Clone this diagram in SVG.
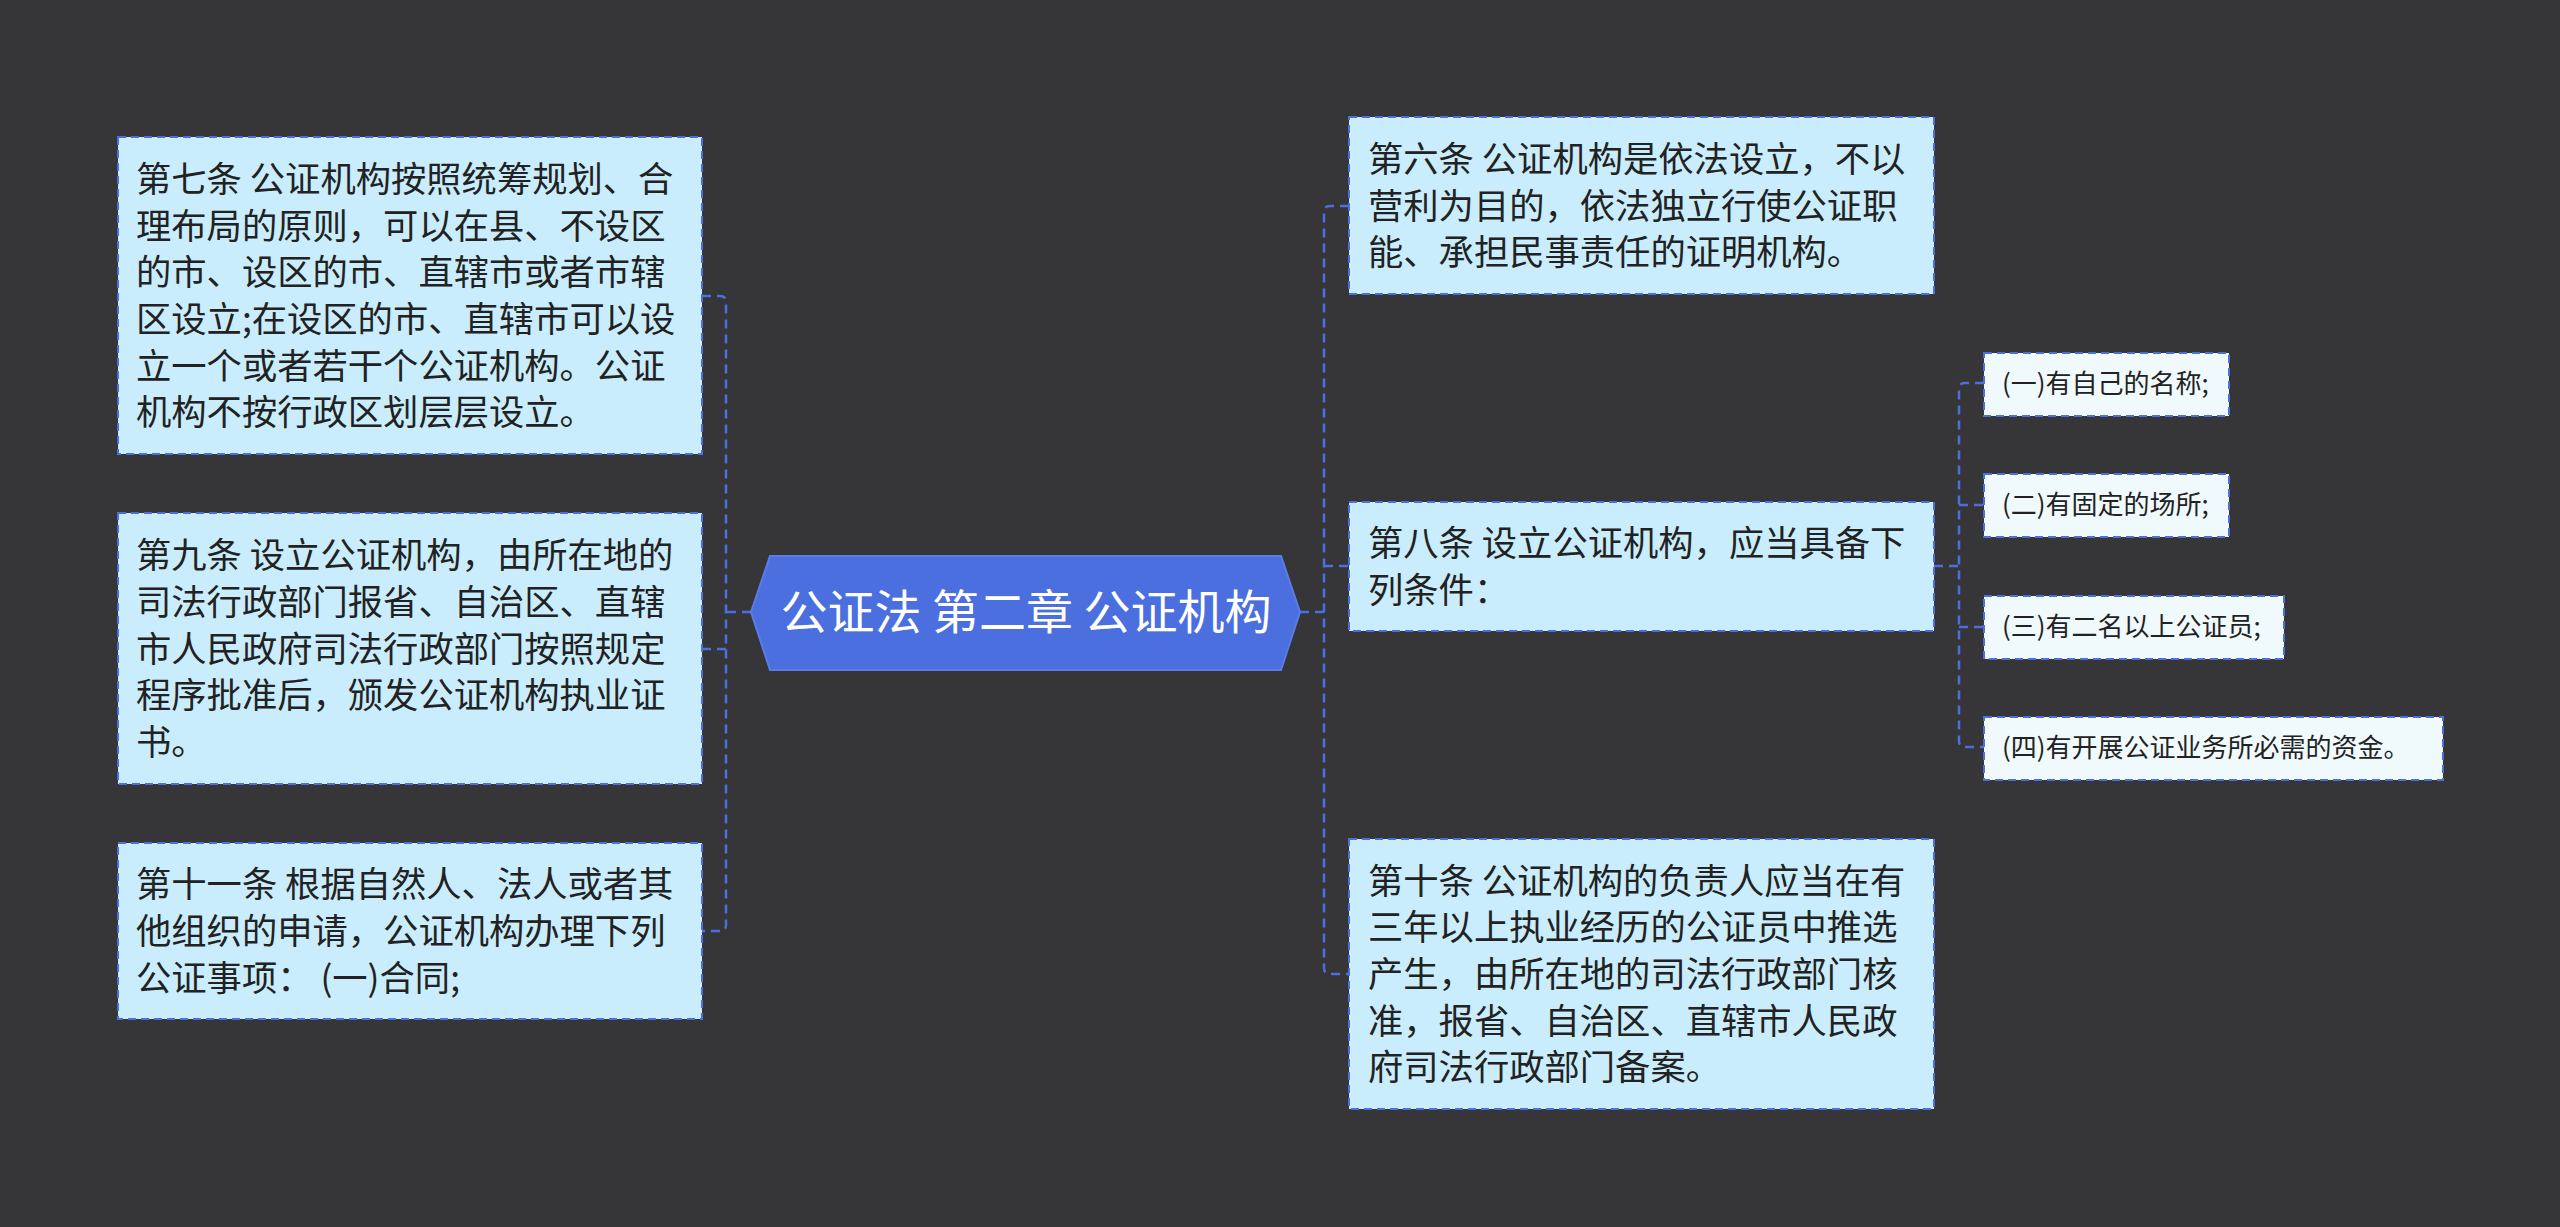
<svg xmlns="http://www.w3.org/2000/svg" width="2560" height="1227" viewBox="0 0 2560 1227">
<defs>
<style>
.bg{fill:#363538}
.box{fill:#C9EDFC;stroke:#4B6FDE;stroke-width:2;stroke-dasharray:8 5}
.sub{fill:#F0F9FC;stroke:#4B6FDE;stroke-width:2;stroke-dasharray:8 5}
.t{font-family:"Noto Sans CJK SC","Noto Sans",sans-serif;font-size:35.3px;fill:#222222}
.ts{font-family:"Noto Sans CJK SC","Noto Sans",sans-serif;font-size:26px;fill:#222222}
.title{font-family:"Noto Sans CJK SC","Noto Sans",sans-serif;font-size:47px;fill:#FFFFFF;text-anchor:middle}
.c{fill:none;stroke:#4B6FDE;stroke-width:2.5;stroke-dasharray:9 6}
</style>
</defs>
<rect class="bg" x="0" y="0" width="2560" height="1227"/>
<g id="connectors">
<path class="c" d="M751,612 H726"/>
<path class="c" d="M702,296 H720 Q726,296 726,302 V925 Q726,931 720,931 H702"/>
<path class="c" d="M726,649 H702"/>
<path class="c" d="M1300,612 H1324"/>
<path class="c" d="M1349,206 H1330 Q1324,206 1324,212 V968 Q1324,974 1330,974 H1349"/>
<path class="c" d="M1324,566 H1349"/>
<path class="c" d="M1934,566 H1959"/>
<path class="c" d="M1984,383 H1965 Q1959,383 1959,389 V741 Q1959,747 1965,747 H1984"/>
<path class="c" d="M1959,505 H1984"/>
<path class="c" d="M1959,627 H1984"/>
</g>
<g id="center">
<polygon points="751,612 770,556 1281,556 1300,612 1281,670 770,670" fill="#4B6FDE" stroke="#5A7CE6" stroke-width="2"/>
<text class="title" x="1026" y="629">公证法 第二章 公证机构</text>
</g>
<g id="n7">
<rect class="box" x="118" y="137" width="584" height="317"/>
<text class="t" x="136" y="192">第七条 公证机构按照统筹规划、合</text>
<text class="t" x="136" y="238.7">理布局的原则，可以在县、不设区</text>
<text class="t" x="136" y="285.3">的市、设区的市、直辖市或者市辖</text>
<text class="t" x="136" y="332">区设立;在设区的市、直辖市可以设</text>
<text class="t" x="136" y="378.7">立一个或者若干个公证机构。公证</text>
<text class="t" x="136" y="425.3">机构不按行政区划层层设立。</text>
</g>
<g id="n9">
<rect class="box" x="118" y="513" width="584" height="271"/>
<text class="t" x="136" y="568">第九条 设立公证机构，由所在地的</text>
<text class="t" x="136" y="615">司法行政部门报省、自治区、直辖</text>
<text class="t" x="136" y="661.5">市人民政府司法行政部门按照规定</text>
<text class="t" x="136" y="708">程序批准后，颁发公证机构执业证</text>
<text class="t" x="136" y="755">书。</text>
</g>
<g id="n11">
<rect class="box" x="118" y="843" width="584" height="176"/>
<text class="t" x="136" y="897">第十一条 根据自然人、法人或者其</text>
<text class="t" x="136" y="944">他组织的申请，公证机构办理下列</text>
<text class="t" x="136" y="990.7">公证事项：  (一)合同;</text>
</g>
<g id="n6">
<rect class="box" x="1349" y="117" width="585" height="177"/>
<text class="t" x="1368" y="172">第六条 公证机构是依法设立，不以</text>
<text class="t" x="1368" y="218.5">营利为目的，依法独立行使公证职</text>
<text class="t" x="1368" y="265.2">能、承担民事责任的证明机构。</text>
</g>
<g id="n8">
<rect class="box" x="1349" y="502" width="585" height="129"/>
<text class="t" x="1368" y="556">第八条 设立公证机构，应当具备下</text>
<text class="t" x="1368" y="603">列条件：</text>
</g>
<g id="n10">
<rect class="box" x="1349" y="839" width="585" height="270"/>
<text class="t" x="1368" y="893.7">第十条 公证机构的负责人应当在有</text>
<text class="t" x="1368" y="940.3">三年以上执业经历的公证员中推选</text>
<text class="t" x="1368" y="987">产生，由所在地的司法行政部门核</text>
<text class="t" x="1368" y="1033.7">准，报省、自治区、直辖市人民政</text>
<text class="t" x="1368" y="1080.3">府司法行政部门备案。</text>
</g>
<g id="s1">
<rect class="sub" x="1984" y="353" width="245" height="63"/>
<text class="ts" x="2002" y="393">(一)有自己的名称;</text>
</g>
<g id="s2">
<rect class="sub" x="1984" y="474" width="245" height="63"/>
<text class="ts" x="2002" y="514">(二)有固定的场所;</text>
</g>
<g id="s3">
<rect class="sub" x="1984" y="596" width="300" height="63"/>
<text class="ts" x="2002" y="636">(三)有二名以上公证员;</text>
</g>
<g id="s4">
<rect class="sub" x="1984" y="717" width="459" height="63"/>
<text class="ts" x="2002" y="757">(四)有开展公证业务所必需的资金。</text>
</g>
</svg>
